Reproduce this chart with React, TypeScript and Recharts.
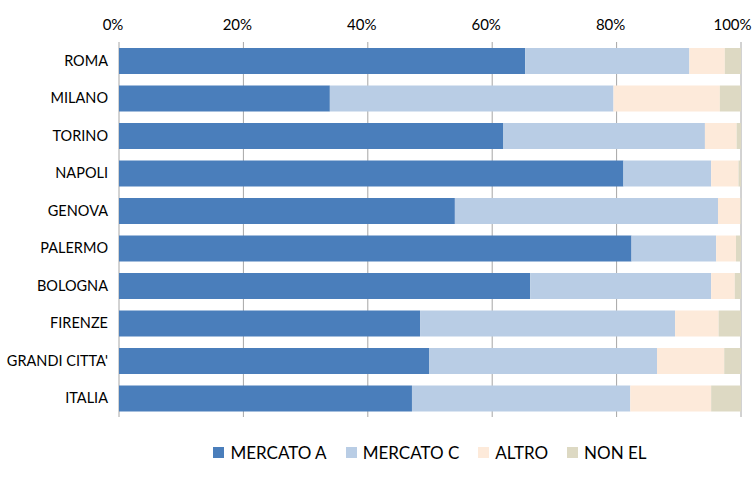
import React from 'react';
import { BarChart, Bar, XAxis, YAxis, CartesianGrid, Legend } from 'recharts';

const CITIES = ['ROMA', 'MILANO', 'TORINO', 'NAPOLI', 'GENOVA', 'PALERMO', 'BOLOGNA', 'FIRENZE', "GRANDI CITTA'", 'ITALIA'];
const MERCATO_A = [65.3, 33.9, 61.8, 81.1, 54.0, 82.4, 66.1, 48.4, 49.9, 47.1];
const MERCATO_C = [26.4, 45.6, 32.4, 14.1, 42.3, 13.6, 29.1, 41.0, 36.6, 35.1];
const ALTRO = [5.7, 17.1, 5.1, 4.4, 3.6, 3.2, 3.8, 7.0, 10.8, 13.0];
const NON_EL = [2.6, 3.4, 0.7, 0.4, 0.1, 0.8, 1.0, 3.6, 2.7, 4.8];
const PCT_TICKS = [0, 20, 40, 60, 80, 100];
const BOUNDARY_TICKS = [0, 1, 2, 3, 4, 5, 6, 7, 8, 9, 10];

const SERIES = [
  { key: 'a', name: 'MERCATO A', color: '#4A7EBB', values: MERCATO_A },
  { key: 'c', name: 'MERCATO C', color: '#B9CDE5', values: MERCATO_C },
  { key: 'altro', name: 'ALTRO', color: '#FDEADA', values: ALTRO },
  { key: 'nonel', name: 'NON EL', color: '#DDD9C3', values: NON_EL },
];

const FONT = 'Lato, "Open Sans", sans-serif';

const data = CITIES.map((city, i) => {
  const row: Record<string, string | number> = { city };
  SERIES.forEach((s) => {
    row[s.key] = s.values[i];
  });
  return row;
});

// legend drawn in series order (recharts sorts by name otherwise)
const renderLegend = () => (
  <div style={{ display: 'flex', justifyContent: 'center', alignItems: 'center', fontFamily: FONT, fontSize: 17, color: '#000' }}>
    {SERIES.map((s, i) => (
      <div key={s.key} style={{ display: 'flex', alignItems: 'center', marginRight: i < SERIES.length - 1 ? 19 : 0 }}>
        <span style={{ display: 'inline-block', width: 11, height: 11, background: s.color, marginRight: 6 }} />
        <span>{s.name}</span>
      </div>
    ))}
  </div>
);

const App: React.FC = () => {
  return (
    <div style={{ width: 756, height: 480, fontFamily: FONT, background: '#fff' }}>
      <style>{`body{margin:0}`}</style>
      <BarChart
        width={756}
        height={480}
        data={data}
        layout="vertical"
        stackOffset="expand"
        barSize={26}
        margin={{ top: 12, right: 15, left: 0, bottom: 42 }}
      >
        <CartesianGrid horizontal={false} stroke="#A6A6A6" strokeWidth={1} />
        <XAxis
          type="number"
          orientation="top"
          domain={[0, 1]}
          ticks={PCT_TICKS.map((t) => t / 100)}
          tickFormatter={(v: number) => `${Math.round(v * 100)}%`}
          axisLine={false}
          tickLine={false}
          height={30}
          tick={{ fill: '#000', fontSize: 15, fontFamily: FONT, dx: -6 }}
          tickMargin={6}
        />
        <YAxis
          yAxisId="bounds"
          type="number"
          orientation="left"
          domain={[0, 10]}
          ticks={BOUNDARY_TICKS}
          tick={false}
          tickSize={5}
          tickLine={{ stroke: '#868686' }}
          axisLine={{ stroke: '#868686' }}
          width={0}
        />
        <YAxis
          type="category"
          dataKey="city"
          width={119}
          axisLine={false}
          tickLine={false}
          tickMargin={5}
          tick={{ fill: '#000', fontSize: 14.5, fontFamily: FONT }}
        />
        <Legend
          verticalAlign="bottom"
          content={renderLegend}
          wrapperStyle={{ left: 119, width: 622, bottom: 17 }}
        />
        {SERIES.map((s) => (
          <Bar
            key={s.key}
            dataKey={s.key}
            name={s.name}
            stackId="s"
            fill={s.color}
            isAnimationActive={false}
          />
        ))}
      </BarChart>
    </div>
  );
};

export default App;
